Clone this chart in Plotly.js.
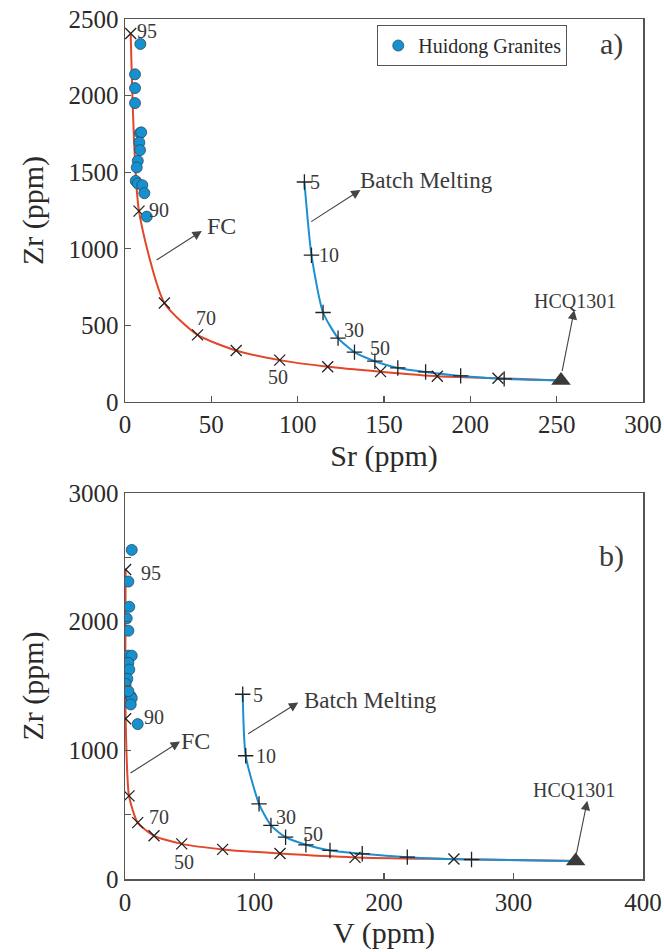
<!DOCTYPE html>
<html>
<head>
<meta charset="utf-8">
<script src="https://cdn.plot.ly/plotly-3.0.1.min.js"></script>
<style>html,body{margin:0;padding:0;background:#fff;}#chart{width:664px;height:952px;}</style>
</head>
<body>
<div id="chart"></div>
<script>
// ---------- Data ----------
// Huidong Granites samples
const granite_sr   = [9.5, 8.9, 5.8, 5.8, 5.8, 8.7, 9.4, 8.3, 8.7, 7.4, 6.8, 6.2, 7.4, 10.0, 11.2, 12.6];
const granite_zr_a = [2560, 2337, 2139, 2049, 1951, 1755, 1760, 1694, 1644, 1574, 1531, 1443, 1426, 1415, 1363, 1210];
const granite_v    = [5.2, 2.6, 3.3, 1.3, 2.6, 2.6, 5.2, 2.6, 3.3, 1.8, 0.5, 4.4, 5.2, 4.4, 2.6, 9.8];
const granite_zr_b = [2558, 2312, 2116, 2026, 1930, 1736, 1736, 1680, 1628, 1556, 1517, 1421, 1405, 1357, 1460, 1204];

// Fractional crystallization (FC) model, degrees 95 ... 10 %
const fc_degree = [95, 90, 80, 70, 60, 50, 40, 30, 20, 10];
const fc_sr     = [3.3, 8.1, 22.8, 42.0, 64.4, 89.6, 117.4, 148.0, 180.9, 216.0];
const fc_v      = [0.5, 0.5, 3.1, 9.8, 22.4, 43.8, 75.4, 119.7, 177.6, 254.0];
const fc_zr     = [2405, 1246, 646, 438, 336, 273, 230, 198, 168, 155];

// Batch melting model, degrees 5 ... 90 %
const bm_degree = [5, 10, 20, 30, 40, 50, 60, 70, 80, 90];
const bm_sr     = [103.9, 108.0, 114.7, 123.4, 132.9, 144.7, 158.0, 174.1, 194.4, 219.6];
const bm_v      = [90.9, 93.2, 103.5, 112.7, 124.0, 139.7, 158.3, 183.2, 218.0, 267.6];
const bm_zr     = [1436, 958, 584, 417, 325, 266, 222, 196, 170, 151];

// Source sample HCQ1301
const src_name = "HCQ1301";
const src_sr = 252.5;
const src_v  = 348.0;
const src_zr = 140;

// Axis ticks
const sr_range = [0, 300], sr_dtick = 50;
const v_range  = [0, 400], v_dtick = 100;
const zr_range_a = [0, 2500], zr_dtick_a = 500;
const zr_range_b = [0, 3000], zr_dtick_b = 1000;

// ---------- Styles ----------
const FONT = "'Liberation Serif', 'Times New Roman', 'DejaVu Serif', serif";
const RED = "#e2462b";
const BLUE = "#1a90d2";
const DOT = "#1591d0";
const TXT = "#3a3a3a";
const AX = "#555555";

function panelTraces(xa, ya, gx, gy, fx, bx, sx, showLeg) {
  return [
    {x: fx.concat([sx]), y: fc_zr.concat([src_zr]), xaxis: xa, yaxis: ya, mode: "lines",
     line: {color: RED, width: 2, shape: "spline", smoothing: 0.6}, showlegend: false, hoverinfo: "skip"},
    {x: bx.concat([sx]), y: bm_zr.concat([src_zr]), xaxis: xa, yaxis: ya, mode: "lines",
     line: {color: BLUE, width: 2, shape: "spline", smoothing: 0.6}, showlegend: false, hoverinfo: "skip"},
    {x: fx, y: fc_zr, xaxis: xa, yaxis: ya, mode: "markers", showlegend: false,
     marker: {symbol: "x-thin-open", size: 11, color: "#222", line: {color: "#222", width: 1.3}}},
    {x: bx, y: bm_zr, xaxis: xa, yaxis: ya, mode: "markers", showlegend: false,
     marker: {symbol: "cross-thin-open", size: 11, color: "#222", line: {color: "#222", width: 1.3}}},
    {x: [sx], y: [src_zr], xaxis: xa, yaxis: ya, mode: "markers", showlegend: false,
     marker: {symbol: "triangle-up", size: 17, color: "#3a3a3a"}},
    {x: gx, y: gy, xaxis: xa, yaxis: ya, mode: "markers", name: "Huidong Granites", showlegend: showLeg,
     marker: {symbol: "circle", size: 11, color: DOT, line: {color: "#2a4a60", width: 0.8}}}
  ];
}

const data = panelTraces("x", "y", granite_sr, granite_zr_a, fc_sr, bm_sr, src_sr, true)
  .concat(panelTraces("x2", "y2", granite_v, granite_zr_b, fc_v, bm_v, src_v, false));

function axisBase() {
  return {showgrid: false, zeroline: false, showline: true, mirror: true, linecolor: AX, linewidth: 1.5,
          ticks: "inside", ticklen: 6, tickwidth: 1.3, tickcolor: AX,
          tickfont: {family: FONT, size: 25, color: "#2a2a2a"}};
}

const TITLEFONT = {family: FONT, size: 30, color: "#2a2a2a"};
const xaxis = Object.assign(axisBase(), {range: sr_range, dtick: sr_dtick, anchor: "y",
  title: {text: "Sr (ppm)", font: TITLEFONT, standoff: 7}});
const yaxis = Object.assign(axisBase(), {range: zr_range_a, dtick: zr_dtick_a, anchor: "x", domain: [0.5547, 1],
  title: {text: "Zr (ppm)", font: TITLEFONT, standoff: 16}});
const xaxis2 = Object.assign(axisBase(), {range: v_range, dtick: v_dtick, anchor: "y2",
  title: {text: "V (ppm)", font: TITLEFONT, standoff: 7}});
const yaxis2 = Object.assign(axisBase(), {range: zr_range_b, dtick: zr_dtick_b, anchor: "x2", domain: [0, 0.4488],
  minor: {dtick: 500, ticks: "inside", ticklen: 6, tickcolor: AX, tickwidth: 1.3},
  title: {text: "Zr (ppm)", font: TITLEFONT, standoff: 16}});

function label(xr, yr, x, y, text, size) {
  return {xref: xr, yref: yr, x: x, y: y, text: text, showarrow: false,
          font: {family: FONT, size: size, color: TXT}, xanchor: "center", yanchor: "middle"};
}
function arrow(xr, yr, x0, y0, x1, y1) {
  return {xref: xr, yref: yr, axref: xr, ayref: yr, x: x1, y: y1, ax: x0, ay: y0, text: "",
          showarrow: true, arrowhead: 2, arrowsize: 1.7, arrowwidth: 1.1, arrowcolor: "#444",
          standoff: 0, startstandoff: 0};
}

const annotations = [
  // panel a
  label("x", "y", 12.5, 2421, "95", 20),
  label("x", "y", 19.7, 1252, "90", 20),
  label("x", "y", 47, 546, "70", 20),
  label("x", "y", 88.5, 160, "50", 20),
  label("x", "y", 55.7, 1147, "FC", 24),
  label("x", "y", 110.3, 1437, "5", 20),
  label("x", "y", 118.4, 959, "10", 20),
  label("x", "y", 132.9, 469, "30", 20),
  label("x", "y", 147.4, 350, "50", 20),
  label("x", "y", 174.7, 1443, "Batch Melting", 23),
  label("x", "y", 260.5, 659, src_name, 20),
  label("x", "y", 282, 2337, "a)", 30),
  arrow("x", "y", 17.4, 920, 44.5, 1116),
  arrow("x", "y", 107, 1171, 136.4, 1384),
  arrow("x", "y", 253, 191, 260.2, 600),
  // panel b
  label("x2", "y2", 20.1, 2382, "95", 20),
  label("x2", "y2", 22.4, 1261, "90", 20),
  label("x2", "y2", 26.3, 479, "70", 20),
  label("x2", "y2", 45.6, 129, "50", 20),
  label("x2", "y2", 54.8, 1069, "FC", 24),
  label("x2", "y2", 102.7, 1430, "5", 20),
  label("x2", "y2", 108.9, 953, "10", 20),
  label("x2", "y2", 124.3, 479, "30", 20),
  label("x2", "y2", 144.8, 352, "50", 20),
  label("x2", "y2", 189.6, 1386, "Batch Melting", 23),
  label("x2", "y2", 346.7, 692, src_name, 20),
  label("x2", "y2", 376, 2512, "b)", 30),
  arrow("x2", "y2", 3.1, 816, 42.5, 1069),
  arrow("x2", "y2", 94, 1121, 133.8, 1372),
  arrow("x2", "y2", 348.3, 181, 357, 608)
];

const layout = {
  width: 664, height: 952,
  margin: {l: 125, r: 21, t: 19, b: 73},
  paper_bgcolor: "#fff", plot_bgcolor: "#fff",
  font: {family: FONT, color: "#222"},
  xaxis: xaxis, yaxis: yaxis, xaxis2: xaxis2, yaxis2: yaxis2,
  showlegend: true,
  legend: {x: 0.487, y: 0.993, xanchor: "left", yanchor: "top", bordercolor: AX, borderwidth: 1,
           font: {family: FONT, size: 20, color: "#2a2a2a"}, bgcolor: "#fff", itemwidth: 30,
           tracegroupgap: 0},
  annotations: annotations
};

Plotly.newPlot("chart", data, layout, {displayModeBar: false, staticPlot: true});
</script>
</body>
</html>
